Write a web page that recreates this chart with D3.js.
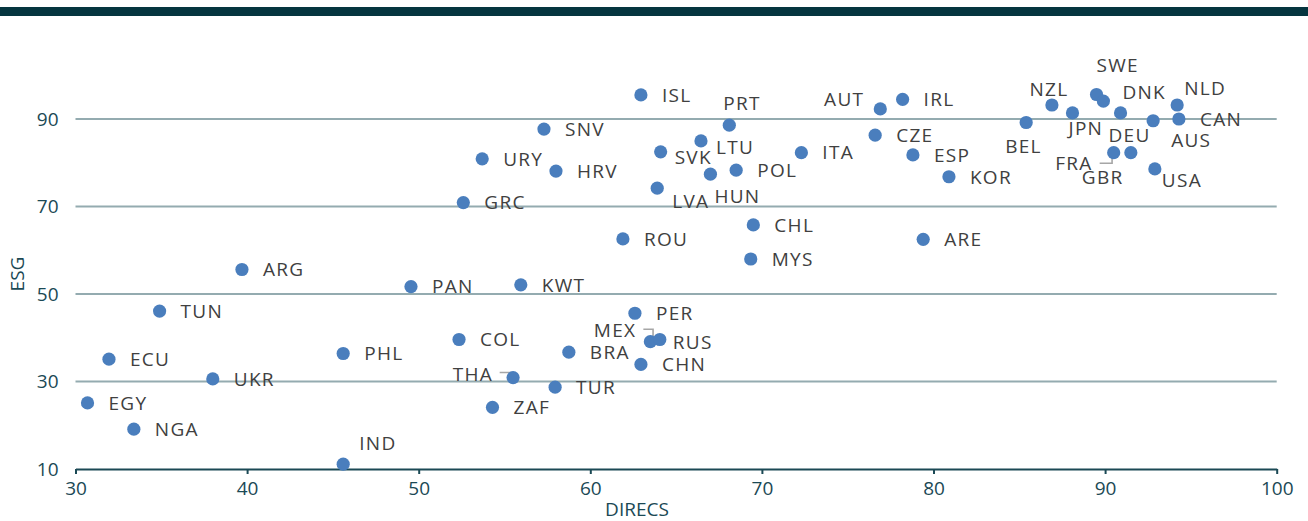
<!DOCTYPE html>
<html>
<head>
<meta charset="utf-8">
<script src="https://cdn.jsdelivr.net/npm/d3@7/dist/d3.min.js"></script>
<style>
  html, body { margin: 0; padding: 0; background: #ffffff; }
  svg { display: block; }
</style>
</head>
<body>
<svg id="chart" width="1308" height="521"></svg>
<script>
// ---- Data ----
const countries = ["ISL","PRT","AUT","IRL","NZL","SWE","DNK","JPN","BEL","DEU","AUS","CAN","NLD","FRA","GBR","USA",
  "CZE","ESP","KOR","ITA","LTU","SVK","POL","HUN","LVA","SNV","URY","HRV","GRC","ROU","CHL","MYS","ARE",
  "ARG","PAN","KWT","TUN","ECU","UKR","EGY","NGA","PHL","IND","COL","PER","MEX","RUS","BRA","CHN","THA","TUR","ZAF"];
const direcs = [62.95,68.1,76.9,78.2,86.9,89.5,89.9,88.1,85.4,90.9,92.8,94.3,94.2,90.5,91.5,92.9,
  76.6,78.8,80.9,72.3,66.45,64.1,68.5,67.0,63.9,57.3,53.7,58.0,52.6,61.9,69.5,69.35,79.4,
  39.7,49.55,55.95,34.9,31.95,38.0,30.7,33.4,45.6,45.6,52.35,62.6,63.5,64.05,58.75,62.95,55.5,57.95,54.3];
const esg = [95.5,88.6,92.3,94.5,93.2,95.6,94.1,91.4,89.2,91.4,89.6,90.0,93.2,82.3,82.3,78.6,
  86.3,81.8,76.8,82.3,85.0,82.5,78.3,77.4,74.2,87.7,80.9,78.1,70.9,62.6,65.8,58.0,62.5,
  55.6,51.7,52.1,46.1,35.1,30.6,25.1,19.1,36.4,11.1,39.6,45.6,39.1,39.6,36.7,33.9,30.9,28.7,24.1];
const xTicks = [30,40,50,60,70,80,90,100];
const yTicks = [10,30,50,70,90];
const xTitle = "DIRECS";
const yTitle = "ESG";

// ---- Label placement (layout, not data): [anchor, dx, dy(center)] ----
const defaultPlacement = ["start", 21, 0];
const placement = {
  PRT: ["start", -6, -22], AUT: ["end", -16, -10], LTU: ["start", 15, 6], SVK: ["start", 14, 5],
  HUN: ["start", 4, 22], LVA: ["start", 15, 13], IND: ["start", 16, -21],
  MEX: ["end", -14, -11], RUS: ["start", 13, 3], THA: ["end", -20, -3],
  SWE: ["start", 0, -29], NZL: ["middle", -3, -16], DNK: ["start", 19, -9], NLD: ["start", 7, -17],
  AUS: ["start", 18, 19], JPN: ["start", -4, 15], DEU: ["start", -12, 22], BEL: ["start", -21, 24],
  FRA: ["end", -21, 11], GBR: ["start", -49, 25], USA: ["start", 7, 11]
};
// leader lines relative to dot
const leaders = {
  MEX: [[-7, -12.4], [2.7, -12.4], [2.7, -5.5]],
  THA: [[-13.4, -5], [-2, -5], [-2, -2]],
  FRA: [[-14, 10.6], [-1.6, 10.6], [-1.6, 4]]
};

// ---- Layout ----
const svg = d3.select("#chart");
const W = 1308;
const plotL = 75.5, plotR = 1276.7, plotB = 469, plotT = 469 - 90 * 4.375;
const x = d3.scaleLinear().domain([30, 100]).range([plotL, plotR]);
const y = d3.scaleLinear().domain([10, 100]).range([plotB, plotT]);

const teal = "#1b4955";
const fontFam = "'Open Sans', 'Noto Sans', sans-serif";

// top bar
svg.append("rect").attr("x", 0).attr("y", 7).attr("width", W).attr("height", 9).attr("fill", "#05353f");

// gridlines
svg.append("g").selectAll("line").data(yTicks.filter(d => d !== 10)).join("line")
  .attr("x1", plotL).attr("x2", plotR)
  .attr("y1", d => y(d)).attr("y2", d => y(d))
  .attr("stroke", "#94abb0").attr("stroke-width", 2);

// x axis
const xAxis = svg.append("g").attr("transform", `translate(0,${plotB})`)
  .call(d3.axisBottom(x).tickValues(xTicks).tickSize(5).tickSizeOuter(0).tickPadding(8));
xAxis.select(".domain").attr("stroke", teal).attr("stroke-width", 2);
xAxis.selectAll(".tick line").attr("stroke", teal).attr("stroke-width", 2);
xAxis.selectAll(".tick text").attr("fill", teal).attr("font-family", fontFam).attr("font-size", 19);

// y axis (labels only)
const yAxis = svg.append("g").attr("transform", `translate(${plotL},0)`)
  .call(d3.axisLeft(y).tickValues(yTicks).tickSize(0).tickPadding(17));
yAxis.select(".domain").remove();
yAxis.selectAll(".tick text").attr("fill", teal).attr("font-family", fontFam).attr("font-size", 19);

// axis titles
svg.append("text").attr("x", 637).attr("y", 516).attr("text-anchor", "middle")
  .attr("fill", teal).attr("font-family", fontFam).attr("font-size", 19).text(xTitle);
svg.append("text").attr("transform", "translate(24,274) rotate(-90)").attr("text-anchor", "middle")
  .attr("fill", teal).attr("font-family", fontFam).attr("font-size", 19).text(yTitle);

const pts = countries.map((c, i) => ({ c, x: direcs[i], y: esg[i] }));

// leader lines
svg.append("g").selectAll("polyline").data(pts.filter(d => leaders[d.c])).join("polyline")
  .attr("points", d => leaders[d.c].map(p => [x(d.x) + p[0], y(d.y) + p[1]].join(",")).join(" "))
  .attr("fill", "none").attr("stroke", "#a6a6a6").attr("stroke-width", 1.6);

// dots
svg.append("g").selectAll("circle").data(pts).join("circle")
  .attr("cx", d => x(d.x)).attr("cy", d => y(d.y)).attr("r", 6.6)
  .attr("fill", "#4a7ebd");

// labels
svg.append("g").selectAll("text").data(pts).join("text")
  .each(function(d) {
    const p = placement[d.c] || defaultPlacement;
    d3.select(this)
      .attr("x", x(d.x) + p[1])
      .attr("y", y(d.y) + p[2] + 6.8)
      .attr("text-anchor", p[0]);
  })
  .attr("font-family", fontFam).attr("font-size", 19).attr("letter-spacing", "1.3px")
  .attr("fill", "#404040")
  .text(d => d.c);
</script>
</body>
</html>
